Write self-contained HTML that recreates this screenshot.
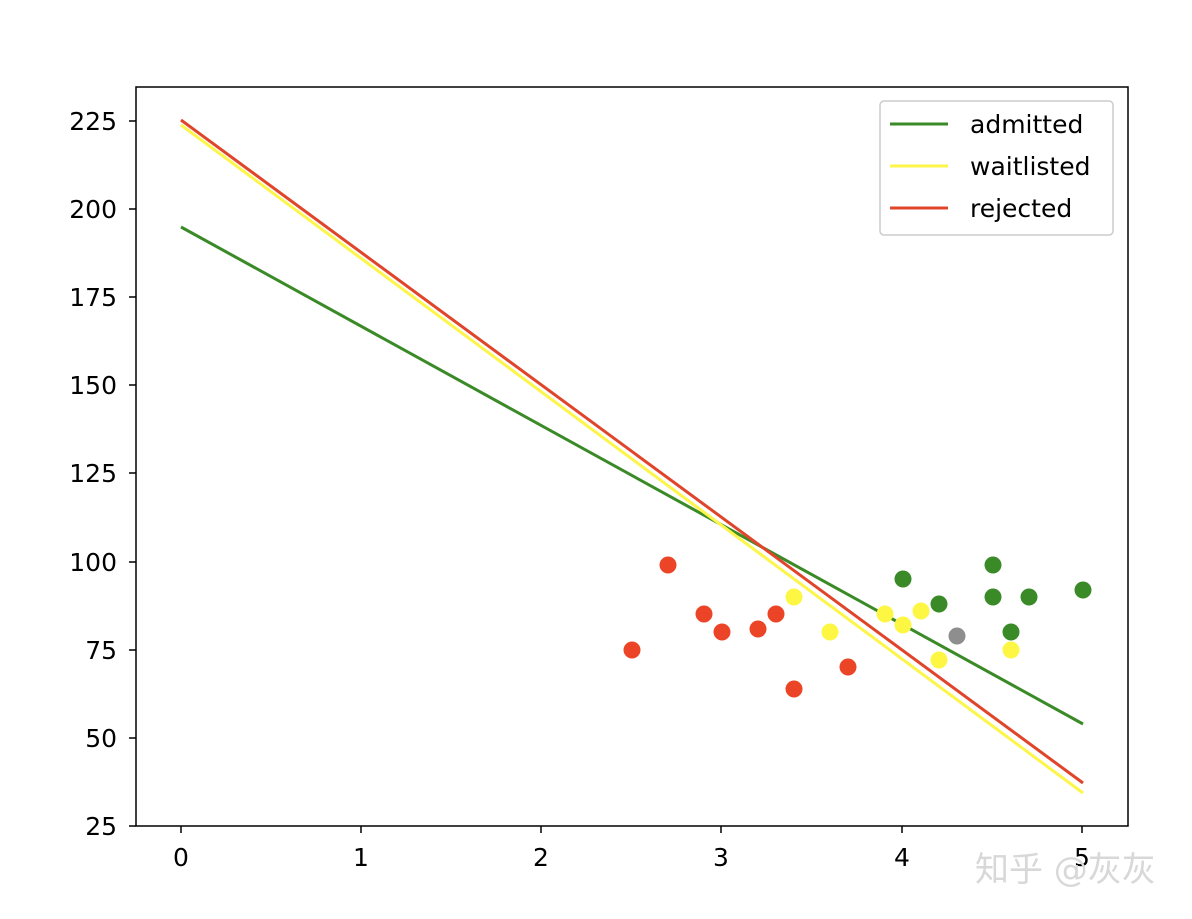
<!DOCTYPE html>
<html><head><meta charset="utf-8"><style>body{margin:0;background:#fff}</style></head>
<body>
<svg width="1192" height="914" xmlns="http://www.w3.org/2000/svg" font-family="'DejaVu Sans',sans-serif">
<rect width="1192" height="914" fill="#fff"/>
<g stroke-width="3" fill="none">
<line x1="181" y1="227" x2="1083" y2="724" stroke="#3a8a27"/>
<line x1="181" y1="125" x2="1083" y2="793" stroke="#fdf54a"/>
<line x1="181" y1="120" x2="1083" y2="783" stroke="#e0452c"/>
</g>
<g fill="#ec4426">
<circle cx="632" cy="650" r="8.5"/><circle cx="668" cy="565" r="8.5"/><circle cx="704" cy="614" r="8.5"/><circle cx="722" cy="632" r="8.5"/><circle cx="758" cy="629" r="8.5"/><circle cx="776" cy="614" r="8.5"/><circle cx="794" cy="689" r="8.5"/><circle cx="848" cy="667" r="8.5"/>
</g>
<g fill="#fdf744">
<circle cx="794" cy="597" r="8.5"/><circle cx="830" cy="632" r="8.5"/><circle cx="885" cy="614" r="8.5"/><circle cx="903" cy="625" r="8.5"/><circle cx="921" cy="611" r="8.5"/><circle cx="939" cy="660" r="8.5"/><circle cx="1011" cy="650" r="8.5"/>
</g>
<g fill="#3a8a27">
<circle cx="903" cy="579" r="8.5"/><circle cx="939" cy="604" r="8.5"/><circle cx="993" cy="565" r="8.5"/><circle cx="993" cy="597" r="8.5"/><circle cx="1011" cy="632" r="8.5"/><circle cx="1029" cy="597" r="8.5"/><circle cx="1083" cy="590" r="8.5"/>
</g>
<circle cx="957" cy="636" r="8.5" fill="#8e8e8e"/>
<rect x="136" y="87" width="992" height="739" fill="none" stroke="#000" stroke-width="1.5"/>
<g stroke="#000" stroke-width="1.5">
<line x1="181" y1="826" x2="181" y2="833"/><line x1="361" y1="826" x2="361" y2="833"/><line x1="541" y1="826" x2="541" y2="833"/><line x1="721" y1="826" x2="721" y2="833"/><line x1="902" y1="826" x2="902" y2="833"/><line x1="1082" y1="826" x2="1082" y2="833"/>
<line x1="129" y1="121" x2="136" y2="121"/><line x1="129" y1="209" x2="136" y2="209"/><line x1="129" y1="297" x2="136" y2="297"/><line x1="129" y1="385" x2="136" y2="385"/><line x1="129" y1="473" x2="136" y2="473"/><line x1="129" y1="562" x2="136" y2="562"/><line x1="129" y1="650" x2="136" y2="650"/><line x1="129" y1="738" x2="136" y2="738"/><line x1="129" y1="826" x2="136" y2="826"/>
</g>
<g font-size="25" fill="#000" text-anchor="middle">
<text x="181" y="866">0</text><text x="361" y="866">1</text><text x="541" y="866">2</text><text x="721" y="866">3</text><text x="902" y="866">4</text><text x="1082" y="866">5</text>
</g>
<g font-size="25" fill="#000" text-anchor="end">
<text x="117" y="130">225</text><text x="117" y="218">200</text><text x="117" y="306">175</text><text x="117" y="394">150</text><text x="117" y="482">125</text><text x="117" y="571">100</text><text x="117" y="659">75</text><text x="117" y="747">50</text><text x="117" y="835">25</text>
</g>
<rect x="880" y="101" width="233" height="134" rx="4" fill="#fff" fill-opacity="0.85" stroke="#ccc" stroke-width="1.5"/>
<g stroke-width="3">
<line x1="890" y1="124" x2="948" y2="124" stroke="#3a8a27"/>
<line x1="890" y1="166" x2="948" y2="166" stroke="#fdf54a"/>
<line x1="890" y1="208" x2="948" y2="208" stroke="#e0452c"/>
</g>
<g font-size="25" fill="#000">
<text x="970" y="133">admitted</text><text x="970" y="175">waitlisted</text><text x="970" y="217">rejected</text>
</g>
<text x="975" y="881" font-size="34" fill="#d8d8d8" font-family="'DejaVu Sans','Noto Sans CJK SC',sans-serif">知乎 @灰灰</text>
</svg>
</body></html>
